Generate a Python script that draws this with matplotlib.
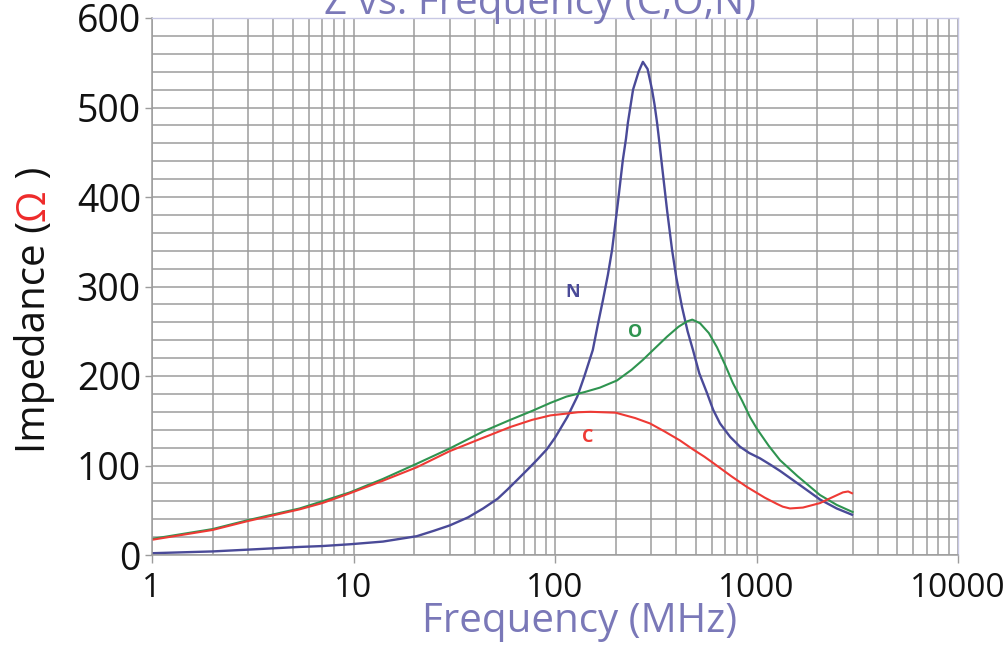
import matplotlib
matplotlib.use("Agg")
import matplotlib.pyplot as plt
from matplotlib.ticker import MultipleLocator, FixedLocator, NullFormatter

plt.rcParams['font.family'] = ['Open Sans', 'DejaVu Sans']

# (MHz, ohm)
freq_c = [1, 2, 3, 5.4, 7, 9.6, 14, 20.6, 30, 44, 60, 77, 95, 114, 130, 150, 200, 250, 296,
          350, 417, 484, 550, 608, 750, 897, 1100, 1265, 1350, 1466, 1700, 2066, 2300, 2687, 2850, 2978]
z_c = [17, 28, 38, 51, 58, 69, 83, 98, 116, 131, 143, 151, 156, 158, 159.5, 160, 159, 153, 147,
       138, 128, 118, 110, 103, 88, 76, 64, 57, 54, 52, 53, 58, 63, 70, 71, 69]

freq_o = [1, 2, 3, 5.4, 7, 9.6, 14, 20.6, 30, 44, 60, 77, 95, 114, 140, 167, 203, 240, 273,
          310, 360, 410, 452, 480, 524, 580, 637, 700, 764, 850, 929, 1005, 1150, 1308, 1600,
          2066, 2500, 3000]
z_o = [18, 29, 39, 52, 60, 70, 85, 102, 119, 138, 151, 161, 170, 177, 182, 187, 195, 207, 218,
       230, 244, 255, 261, 263, 259, 248, 232, 212, 192, 172, 154, 141, 122, 106, 88,
       67, 56, 48]

freq_n = [1, 2, 3, 5.4, 7, 9.6, 14, 20.6, 25, 30, 37, 44, 52, 58, 65, 75, 82, 91, 100, 115,
          129, 140, 154, 163, 173, 183, 192, 205, 217, 225, 230, 244, 260, 273, 288,
          303, 312, 321, 330, 340, 360, 381, 400, 427, 455, 484, 520, 568, 610, 659, 740,
          828, 920, 1041, 1170, 1308, 1600, 2066, 2500, 2978]
z_n = [2, 4, 6, 9, 10, 12, 15, 21, 27, 33, 42, 52, 63, 73, 84, 98, 107, 118, 131, 154,
       177, 200, 229, 257, 285, 313, 341, 393, 441, 465, 483, 520, 540, 551, 543,
       520, 503, 483, 460, 434, 385, 341, 310, 277, 250, 229, 203, 181, 162, 147, 132,
       121, 114, 108, 101, 94, 80, 62, 52, 45]

x_ticks = [1, 10, 100, 1000, 10000]
x_tick_labels = ['1', '10', '100', '1000', '10000']
y_ticks = [0, 100, 200, 300, 400, 500, 600]

purple_txt = '#7a78b8'
grid_col = '#9c9c9c'

fig = plt.figure(figsize=(10.05, 6.47), dpi=100)
W, H = 1005, 647
ax = fig.add_axes([152 / W, 1 - 555 / H, (958 - 152) / W, (555 - 18) / H])

ax.plot(freq_n, z_n, color='#4a4a98', lw=1.7)
ax.plot(freq_o, z_o, color='#2f9450', lw=1.5)
ax.plot(freq_c, z_c, color='#ee3a35', lw=1.5)

ax.set_xscale('log')
ax.set_xlim(1, 10000)
ax.set_ylim(0, 600)

ax.xaxis.set_major_locator(FixedLocator(x_ticks))
ax.set_xticklabels(x_tick_labels)
ax.xaxis.set_minor_formatter(NullFormatter())
ax.set_yticks(y_ticks)
ax.yaxis.set_minor_locator(MultipleLocator(20))

ax.grid(True, which='both', axis='both', color=grid_col, lw=1.1)
ax.set_axisbelow(True)

ax.tick_params(axis='x', which='major', labelsize=24, length=6, width=1, color=grid_col, pad=6)
ax.tick_params(axis='x', which='minor', length=0)
ax.tick_params(axis='y', which='major', labelsize=27, length=5, width=1, color=grid_col, pad=3)
ax.tick_params(axis='y', which='minor', length=0)
for lab in ax.get_xticklabels() + ax.get_yticklabels():
    lab.set_color('#111111')

for s in ['left', 'bottom']:
    ax.spines[s].set_color(grid_col)
    ax.spines[s].set_linewidth(1.1)
for s in ['top', 'right']:
    ax.spines[s].set_color('#c8c8e4')
    ax.spines[s].set_linewidth(1.0)

# curve labels, placed at pixel positions
def px_to_data(xp, yp):
    return 10 ** ((xp - 152) / 201.5), (555 - yp) / 0.895

for name, col, xp, yp in [('N', '#4a4a98', 573, 292), ('O', '#2f9450', 635, 332), ('C', '#ee3a35', 588, 437)]:
    fx, fy = px_to_data(xp, yp)
    ax.text(fx, fy, name, color=col, fontsize=13, fontweight='bold', ha='center', va='center')

# title (mostly cut off at the top, as in the original) and x label
fig.text(540 / W, 1 - 14 / H, 'Z vs. Frequency (C,O,N)', color=purple_txt, fontsize=29,
         ha='center', va='baseline')
fig.text(580 / W, 1 - 622 / H, 'Frequency (MHz)', color=purple_txt, fontsize=29,
         ha='center', va='center')

# y label with red omega
renderer = fig.canvas.get_renderer()
x0 = 45 / W
y_px = 453
for piece, col in [('Impedance (', '#111111'), ('Ω', '#ee2a2a'), (' )', '#111111')]:
    t = fig.text(x0, 1 - y_px / H, piece, color=col, fontsize=29, rotation=90,
                 rotation_mode='anchor', ha='left', va='baseline')
    bb = t.get_window_extent(renderer)
    y_px -= bb.height

fig.savefig('out.png', dpi=100)
